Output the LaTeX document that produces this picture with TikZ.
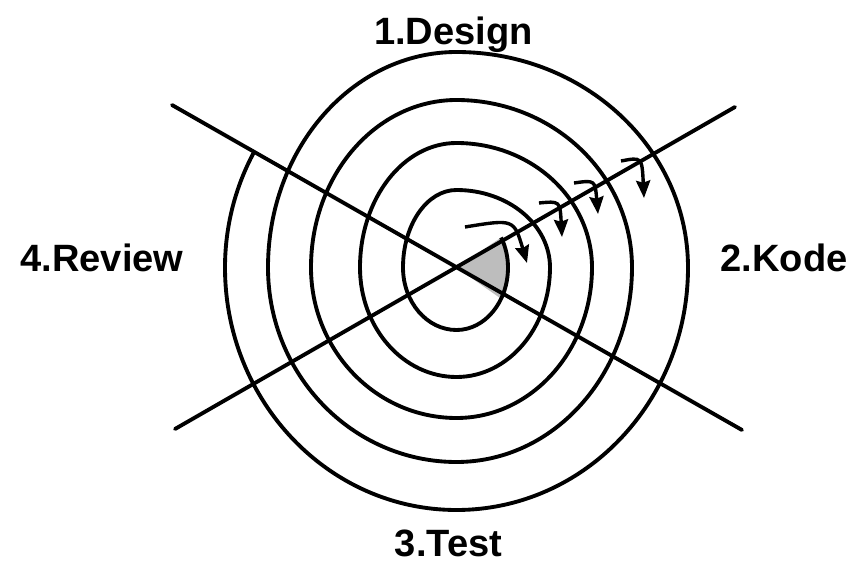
\documentclass[tikz,border=0pt]{standalone}
\usepackage{fontspec}
\usepackage{tikz}
\usetikzlibrary{arrows.meta,positioning}
\newfontfamily\labelfont{Liberation Sans}
\definecolor{Wedge}{HTML}{BDBDBD}

\begin{document}
\begin{tikzpicture}[
  x=0.03cm,y=-0.03cm,
  ring/.style={line width=3.3pt,draw=black},
  axis/.style={line width=3.3pt,draw=black,line cap=round},
  turn/.style={-{Stealth[length=5.2mm,width=4.2mm,inset=0.6mm]},line width=2.9pt,draw=black},
  lbl/.style={font=\labelfont\bfseries\fontsize{32.5}{36}\selectfont,anchor=base,inner sep=0pt}
]
\useasboundingbox (0,0) rectangle (858,564);

% centre and the two crossing lines
\coordinate (c) at (456.5,267.5);
\coordinate (l1a) at (172,105);
\coordinate (l1b) at (742,430);
\coordinate (l2a) at (175,429);
\coordinate (l2b) at (735,107);

% starting wedge
\fill[Wedge] (c) -- ++(44.6,-30)
  arc[start angle=-30,end angle=0,x radius=51.5,y radius=60]
  arc[start angle=0,end angle=30,x radius=51.5,y radius=62.5] -- cycle;

% spiral, one quarter at a time
\draw[ring] (c) ++(44.6,-30)
  arc[start angle=-30,end angle=0,x radius=51.5,y radius=60]
  arc[start angle=0,end angle=90,x radius=51.5,y radius=62.5]
  arc[start angle=90,end angle=180,x radius=53.5,y radius=62.5]
  arc[start angle=180,end angle=270,x radius=53.5,y radius=77.5]
  arc[start angle=270,end angle=360,x radius=93.5,y radius=77.5]
  arc[start angle=0,end angle=90,x radius=93.5,y radius=109.5]
  arc[start angle=90,end angle=180,x radius=96.5,y radius=109.5]
  arc[start angle=180,end angle=270,x radius=96.5,y radius=124.5]
  arc[start angle=270,end angle=360,x radius=135.5,y radius=124.5]
  arc[start angle=0,end angle=90,x radius=135.5,y radius=150.5]
  arc[start angle=90,end angle=180,x radius=145.5,y radius=150.5]
  arc[start angle=180,end angle=270,x radius=145.5,y radius=167.5]
  arc[start angle=270,end angle=360,x radius=175.5,y radius=167.5]
  arc[start angle=0,end angle=90,x radius=175.5,y radius=194.5]
  arc[start angle=90,end angle=180,x radius=188.5,y radius=194.5]
  arc[start angle=180,end angle=270,x radius=188.5,y radius=215.5]
  arc[start angle=270,end angle=360,x radius=231.5,y radius=215.5]
  arc[start angle=0,end angle=90,x radius=231.5,y radius=242.5]
  arc[start angle=90,end angle=180,x radius=231.5,y radius=242.5]
  arc[start angle=180,end angle=209,x radius=231.5,y radius=238];

\draw[axis] (l1a) -- (l1b);
\draw[axis] (l2a) -- (l2b);

% small turn arrows along the upper right line
\coordinate (a1s) at (465,227);
\coordinate (a1e) at (527,263);
\coordinate (a2s) at (539,203);
\coordinate (a2e) at (562,237);
\coordinate (a3s) at (574,183);
\coordinate (a3e) at (598,214);
\coordinate (a4s) at (621,161);
\coordinate (a4e) at (644,198);
\draw[turn] (a1s) .. controls (514,219) .. (a1e);
\draw[turn] (a2s) .. controls (560,201) .. (a2e);
\draw[turn] (a3s) .. controls (595,180) .. (a3e);
\draw[turn] (a4s) .. controls (642,157) .. (a4e);

% phase labels
\node[lbl] (design) at (453.5,45) {1.Design};
\node[lbl] (kode) at (784,271) {2.Kode};
\node[lbl] (test) at (448.5,556) {3.Test};
\node[lbl] (review) at (102,271) {4.Review};
\end{tikzpicture}
\end{document}
